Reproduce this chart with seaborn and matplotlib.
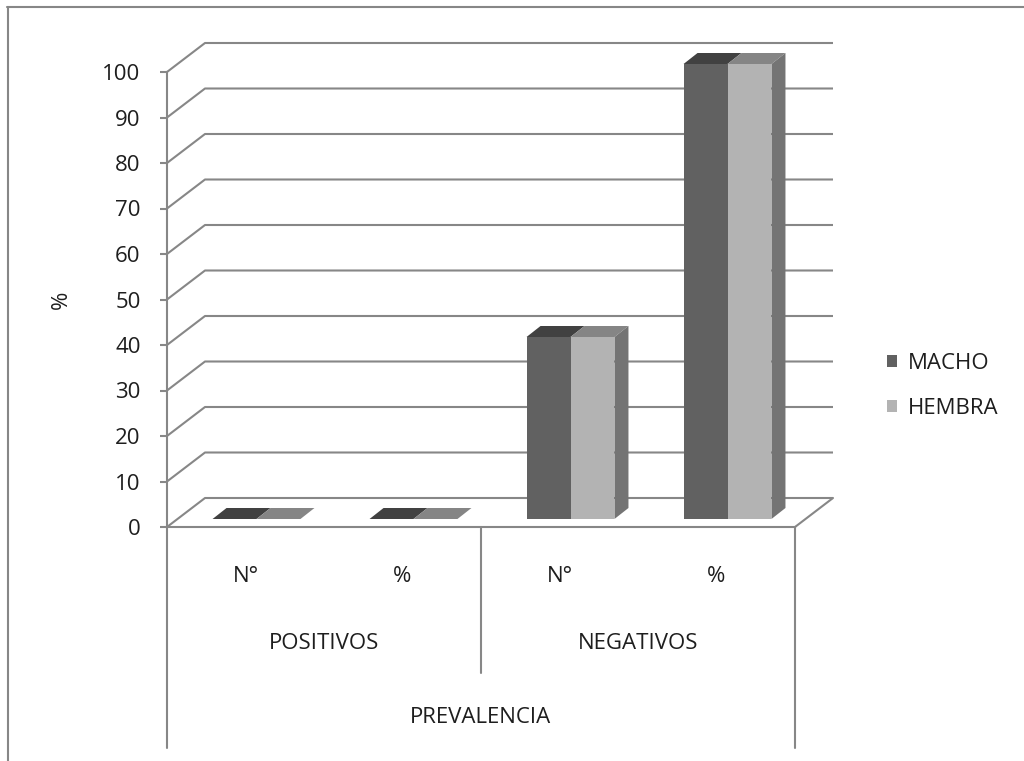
import numpy as np
import pandas as pd
import matplotlib
matplotlib.use("Agg")
import matplotlib.pyplot as plt
from matplotlib.patches import Polygon, Patch
from matplotlib.lines import Line2D
from matplotlib.transforms import ScaledTranslation
import seaborn as sns

# ---- data -------------------------------------------------------------
categories = ["N°", "%", "N°", "%"]
groups = ["POSITIVOS", "NEGATIVOS"]
group_title = "PREVALENCIA"
series_names = ["MACHO", "HEMBRA"]
macho = [0, 0, 40, 100]
hembra = [0, 0, 40, 100]
yticks = list(range(0, 101, 10))
ylabel = "%"

# ---- style ------------------------------------------------------------
sns.set_theme(style="white")
plt.rcParams["font.family"] = ["Open Sans", "DejaVu Sans"]
FS = 16
TXT = "#1e1e1e"
GRID = "#878787"
LW = 1.5
front_col = {"MACHO": "#616161", "HEMBRA": "#b3b3b3"}
top_col = {"MACHO": "#414141", "HEMBRA": "#858585"}
side_col = "#747474"

W, H, DPI = 1024, 761, 100
fig = plt.figure(figsize=(W / DPI, H / DPI), dpi=DPI)
ax = fig.add_axes([167 / W, 1 - 527 / H, 628 / W, 455 / H])

keys = [f"{g} {c}" for g, c in zip(np.repeat(groups, 2), categories)]
df = pd.DataFrame({
    "cat": keys * 2,
    "sexo": np.repeat(series_names, len(keys)),
    "valor": macho + hembra,
})

sns.barplot(data=df, x="cat", y="valor", hue="sexo", order=keys,
            hue_order=series_names, palette=front_col, width=0.56,
            saturation=1, linewidth=0, legend=False, ax=ax, zorder=3)
ax.set_xlim(-0.5, len(keys) - 0.5)
ax.set_ylim(0, 100)


def to_data(dx_px, dy_px):
    """Convert a pixel offset into data units for this axes."""
    o = ax.transData.transform((0, 0))
    ux = ax.transData.transform((1, 0))[0] - o[0]
    uy = ax.transData.transform((0, 1))[1] - o[1]
    return dx_px / ux, dy_px / uy


# oblique projection offsets
bx, by = to_data(38, 29)      # back wall
dx, dy = to_data(14, 11)      # bar depth
shift = ax.transData + ScaledTranslation(11 / DPI, 8 / DPI, fig.dpi_scale_trans)

# back wall gridlines with their diagonal returns
x0, x1 = -0.5, len(keys) - 0.5
for v in yticks:
    ax.plot([x0, x0 + bx, x1 + bx], [v, v + by, v + by], color=GRID,
            lw=LW, clip_on=False, zorder=1, solid_capstyle="butt")
ax.plot([x1, x1 + bx], [0, by], color=GRID, lw=LW, clip_on=False, zorder=1)

# bars: move fronts into depth and add top / side faces
for cont, name in zip(ax.containers, series_names):
    for bar in cont:
        bar.set_transform(shift)
        bar.set_clip_on(False)
        xl, w, h = bar.get_x(), bar.get_width(), bar.get_height()
        xr = xl + w
        ax.add_patch(Polygon([(xl, h), (xr, h), (xr + dx, h + dy), (xl + dx, h + dy)],
                             closed=True, facecolor=top_col[name], edgecolor="none",
                             transform=shift, zorder=4, clip_on=False))
        if name == series_names[-1] and h > 0:
            ax.add_patch(Polygon([(xr, 0), (xr + dx, dy), (xr + dx, h + dy), (xr, h)],
                                 closed=True, facecolor=side_col, edgecolor="none",
                                 transform=shift, zorder=4, clip_on=False))

# axes lines
for s in ["top", "right"]:
    ax.spines[s].set_visible(False)
for s in ["left", "bottom"]:
    ax.spines[s].set_color(GRID)
    ax.spines[s].set_linewidth(LW)
    ax.spines[s].set_zorder(2)

ax.set_yticks(yticks)
ax.set_yticklabels([str(t) for t in yticks], fontsize=FS, color=TXT)
ax.tick_params(axis="y", left=True, length=5, width=LW, color=GRID, pad=14)
ax.set_xticks([])
ax.set_xlabel("")
ax.set_ylabel(ylabel, fontsize=FS, color=TXT, rotation=90)
ax.yaxis.set_label_coords(-0.151, 0.5)

# hierarchical category axis
_, y_cat = to_data(0, -50)
_, y_grp = to_data(0, -117)
_, y_ttl = to_data(0, -191)
_, y_sep_long = to_data(0, -221)
_, y_sep_short = to_data(0, -146)
for i, c in enumerate(categories):
    ax.text(i, y_cat, c, ha="center", va="center", fontsize=FS, color=TXT, clip_on=False)
for j, g in enumerate(groups):
    ax.text(2 * j + 0.5, y_grp, g, ha="center", va="center", fontsize=FS, color=TXT, clip_on=False)
ax.text((x0 + x1) / 2, y_ttl, group_title, ha="center", va="center", fontsize=FS,
        color=TXT, clip_on=False)
for xs in [x0, x1]:
    ax.plot([xs, xs], [0, y_sep_long], color=GRID, lw=LW, clip_on=False)
ax.plot([(x0 + x1) / 2] * 2, [0, y_sep_short], color=GRID, lw=LW, clip_on=False)

# legend
handles = [Patch(facecolor=front_col[n], edgecolor="none") for n in series_names]
ax.legend(handles, series_names, loc="center left", bbox_to_anchor=(887 / W, 1 - 386 / H),
          bbox_transform=fig.transFigure, frameon=False, fontsize=FS,
          handlelength=0.45, handleheight=0.45, handletextpad=0.5,
          labelspacing=1.05, borderpad=0, borderaxespad=0, labelcolor=TXT)

# chart area border
fig.add_artist(Line2D([7.5 / W, 7.5 / W], [0, 1 - 6.5 / H], transform=fig.transFigure,
                      color=GRID, lw=LW))
fig.add_artist(Line2D([7 / W, 1], [1 - 6.5 / H, 1 - 6.5 / H], transform=fig.transFigure,
                      color=GRID, lw=LW))

fig.savefig("out.png", dpi=DPI, facecolor="white")
